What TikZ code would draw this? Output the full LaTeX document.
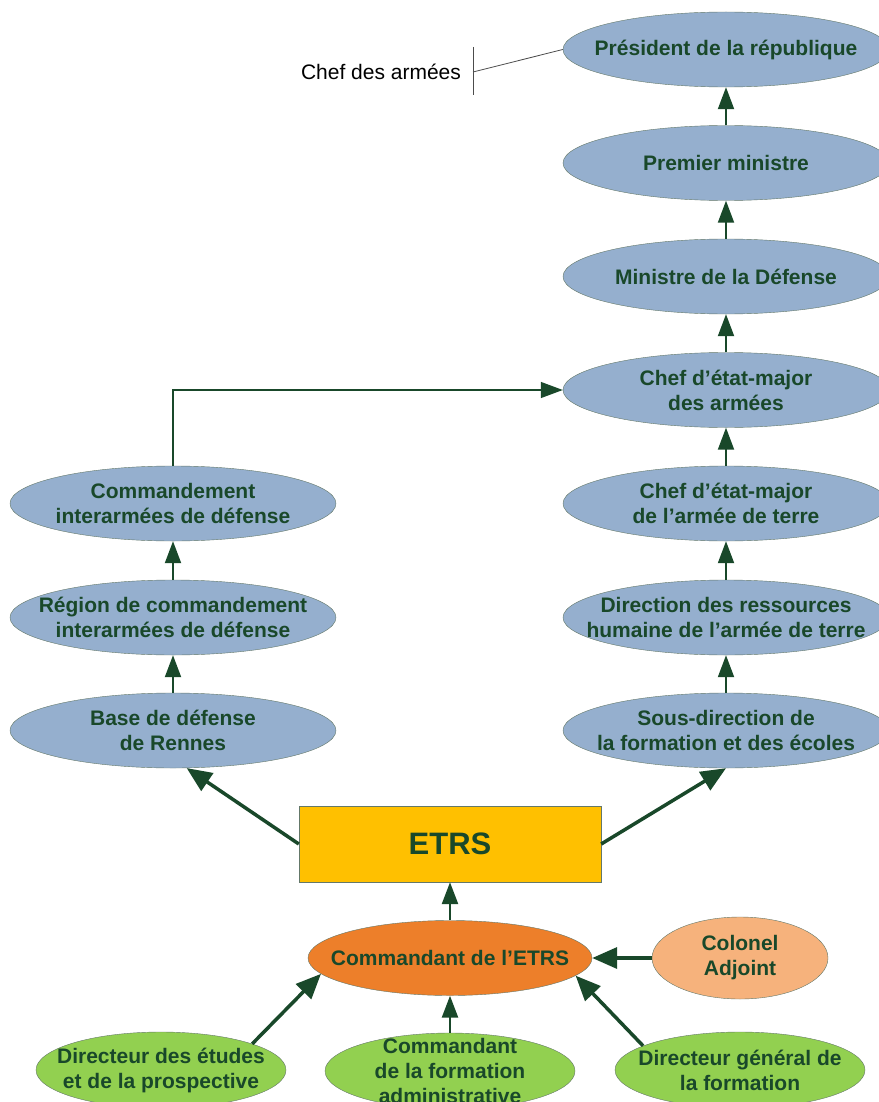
\documentclass[tikz,border=0pt]{standalone}
\usepackage{fontspec}
\setmainfont{Liberation Sans}
\usepackage{tikz}
\usetikzlibrary{shapes,arrows,arrows.meta}
\definecolor{darkgreen}{RGB}{25,72,42}
\definecolor{bluegrey}{RGB}{149,175,206}
\definecolor{edgegrey}{RGB}{100,120,105}
\definecolor{etrsyellow}{RGB}{255,192,0}
\definecolor{cmdorange}{RGB}{237,127,42}
\definecolor{lightorange}{RGB}{246,178,124}
\definecolor{leafgreen}{RGB}{146,208,80}

\begin{document}
\begin{tikzpicture}[x=1pt,y=-1pt,
every node/.style={font=\bfseries\fontsize{21}{25}\selectfont,text=darkgreen,align=center},
oval/.style={ellipse,draw=edgegrey,fill=bluegrey,minimum width=326pt,minimum height=75pt,inner xsep=-40pt,inner ysep=-15pt},
leaf/.style={oval,fill=leafgreen,minimum width=250pt,minimum height=76pt},
link/.style={-{Triangle[length=22pt,width=16pt]},draw=darkgreen,line width=2pt},
thin link/.style={link,line width=1.3pt},
thick link/.style={-{Triangle[length=25pt,width=21pt]},draw=darkgreen,line width=3.5pt},
note/.style={draw=black!70,line width=0.8pt}
]
\useasboundingbox (0,0) rectangle (878,1102);

\node[oval] (president) at (726,49.5) {Président de la république};
\node[oval] (premier) at (726,163) {Premier ministre};
\node[oval] (ministre) at (726,276.5) {Ministre de la Défense};
\node[oval] (cema) at (726,390) {Chef d’état-major\\des armées};
\node[oval] (cemat) at (726,503.5) {Chef d’état-major\\de l’armée de terre};
\node[oval] (drhat) at (726,617.5) {Direction des ressources\\humaine de l’armée de terre};
\node[oval] (sdfe) at (726,730.5) {Sous-direction de\\la formation et des écoles};

\node[oval] (cid) at (173,503.5) {Commandement\\interarmées de défense};
\node[oval] (rcid) at (173,617.5) {Région de commandement\\interarmées de défense};
\node[oval] (bdd) at (173,730.5) {Base de défense\\de Rennes};

\node[draw=edgegrey,fill=etrsyellow,minimum width=302pt,minimum height=76pt,font=\bfseries\fontsize{31}{36}\selectfont] (etrs) at (450,844) {ETRS};

\node[oval,fill=cmdorange,minimum width=284pt] (cmd) at (450,958) {Commandant de l’ETRS};
\node[oval,fill=lightorange,minimum width=176pt,minimum height=82pt] (colonel) at (740,958) {Colonel\\Adjoint};

\node[leaf] (etudes) at (161,1070) {Directeur des études\\et de la prospective};
\node[leaf] (formation) at (450,1071) {Commandant\\de la formation\\administrative};
\node[leaf] (dgf) at (740,1070) {Directeur général de\\la formation};

\node[font=\fontsize{21}{25}\selectfont,text=black] (chefarmees) at (381,72) {Chef des armées};
\coordinate (brtop) at (473,47);
\coordinate (brbot) at (473,95);
\coordinate (brmid) at (473,72);
\draw[note] (brtop) -- (brbot);
\draw[note] (brmid) -- (president.west);

\draw[link] (premier) -- (president);
\draw[link] (ministre) -- (premier);
\draw[link] (cema) -- (ministre);
\draw[link] (cemat) -- (cema);
\draw[link] (drhat) -- (cemat);
\draw[link] (sdfe) -- (drhat);
\draw[link] (bdd) -- (rcid);
\draw[link] (rcid) -- (cid);
\draw[thin link] (cid.north) |- (cema.west);

\draw[thick link] (etrs.west) -- (bdd.-70);
\draw[thick link] (etrs.east) -- (sdfe.south);
\draw[link,line width=2.5pt] (cmd) -- (etrs);
\draw[thick link] (colonel) -- (cmd);
\draw[thick link] (etudes.16) -- (cmd.187);
\draw[link,line width=2.5pt] (formation) -- (cmd);
\draw[thick link] (dgf.166) -- (cmd.-8);
\end{tikzpicture}
\end{document}
